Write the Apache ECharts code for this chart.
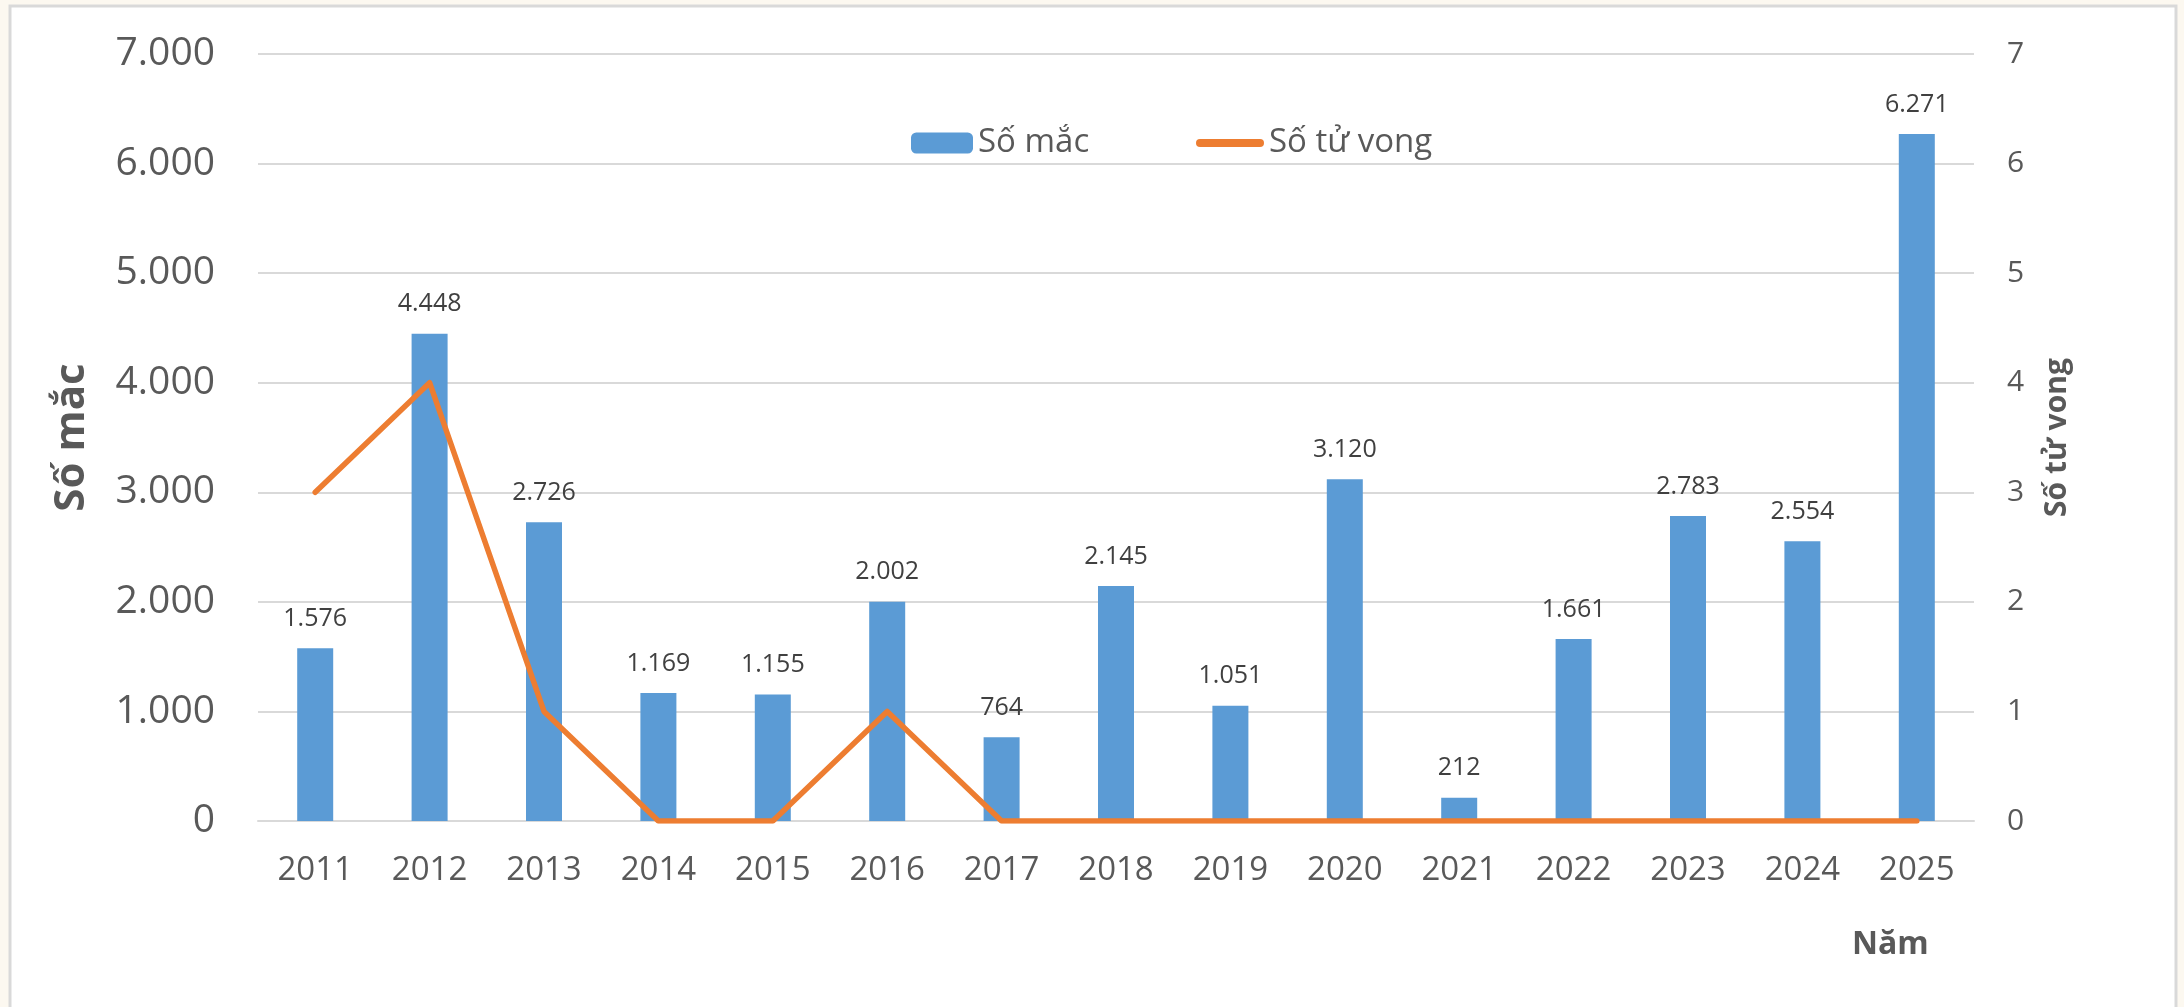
<!DOCTYPE html>
<html>
<head>
<meta charset="utf-8">
<script src="https://cdn.jsdelivr.net/npm/echarts@6/dist/echarts.min.js"></script>
<style>
html,body{margin:0;padding:0;background:#fcf8f0;}
#c{width:2184px;height:1007px;}
</style>
</head>
<body>
<div id="c"></div>
<script>
const categories = ['2011','2012','2013','2014','2015','2016','2017','2018','2019','2020','2021','2022','2023','2024','2025'];
const soMac = [1576, 4448, 2726, 1169, 1155, 2002, 764, 2145, 1051, 3120, 212, 1661, 2783, 2554, 6271];
const soTuVong = [3, 4, 1, 0, 0, 1, 0, 0, 0, 0, 0, 0, 0, 0, 0];
const leftTicks = {min: 0, max: 7000, interval: 1000};
const rightTicks = {min: 0, max: 7, interval: 1};

function fmt(v){ return String(v).replace(/\B(?=(\d{3})+(?!\d))/g, '.'); }

const chart = echarts.init(document.getElementById('c'), null, {renderer:'canvas'});
const FONT = '"Open Sans", "Noto Sans", sans-serif';
chart.setOption({
  backgroundColor: '#fcf8f0',
  textStyle: {fontFamily: FONT},
  animation: false,
  graphic: [
    {type:'rect', z:-10, shape:{x:10, y:6, width:2166, height:1020}, style:{fill:'#ffffff', stroke:'#d9d9d9', lineWidth:3}},
    {type:'text', left: 1852, top: 929, style:{text:'Năm', font:'bold 32px "Open Sans", sans-serif', fill:'#595959'}}
  ],
  grid: {left: 258, right: 210, top: 54, bottom: 186},
  legend: [
    {data:[{name:'Số mắc'}], left: 911, top: 126, padding:0, itemWidth: 62, itemHeight: 21,
     textStyle:{fontSize:33, color:'#595959', fontFamily: FONT, lineHeight:34}},
    {data:[{name:'Số tử vong', icon:'path://M4,0 L64,0 A4,4 0 0 1 64,8 L4,8 A4,4 0 0 1 4,0 Z', itemStyle:{color:'#ed7d31'}}],
     left: 1196, top: 126, padding:0, itemWidth: 68, itemHeight: 8,
     textStyle:{fontSize:33, color:'#595959', fontFamily: FONT, lineHeight:34}}
  ],
  xAxis: {
    type:'category', data: categories,
    axisLine:{show:true, lineStyle:{color:'#d9d9d9', width:2}},
    axisTick:{show:false},
    axisLabel:{fontSize:33, color:'#595959', margin:33, fontFamily: FONT}
  },
  yAxis: [
    {type:'value', min:leftTicks.min, max:leftTicks.max, interval:leftTicks.interval, position:'left',
     name:'Số mắc', nameLocation:'middle', nameGap:165, nameRotate:90,
     nameTextStyle:{fontSize:42, fontWeight:'bold', color:'#595959', fontFamily: FONT},
     axisLine:{show:false}, axisTick:{show:false},
     axisLabel:{fontSize:39, color:'#595959', margin:43, formatter: fmt, fontFamily: FONT},
     splitLine:{lineStyle:{color:'#d9d9d9', width:2}}},
    {type:'value', min:rightTicks.min, max:rightTicks.max, interval:rightTicks.interval, position:'right',
     name:'Số tử vong', nameLocation:'middle', nameGap:68, nameRotate:90,
     nameTextStyle:{fontSize:30, fontWeight:'bold', color:'#595959', fontFamily: FONT},
     axisLine:{show:false}, axisTick:{show:false},
     axisLabel:{fontSize:30, color:'#595959', margin:33, fontFamily: FONT},
     splitLine:{show:false}}
  ],
  series: [
    {name:'Số mắc', type:'bar', data: soMac, barWidth: 36, yAxisIndex:0,
     itemStyle:{color:'#5b9bd5'},
     label:{show:true, position:'top', distance:17, fontSize:25, color:'#404040', formatter: p => fmt(p.value), fontFamily: FONT}},
    {name:'Số tử vong', type:'line', data: soTuVong, yAxisIndex:1, showSymbol:false, symbol:'none', z:5,
     lineStyle:{color:'#ed7d31', width:5.5, cap:'round', join:'round'}, itemStyle:{color:'#ed7d31'}}
  ]
});
</script>
</body>
</html>
